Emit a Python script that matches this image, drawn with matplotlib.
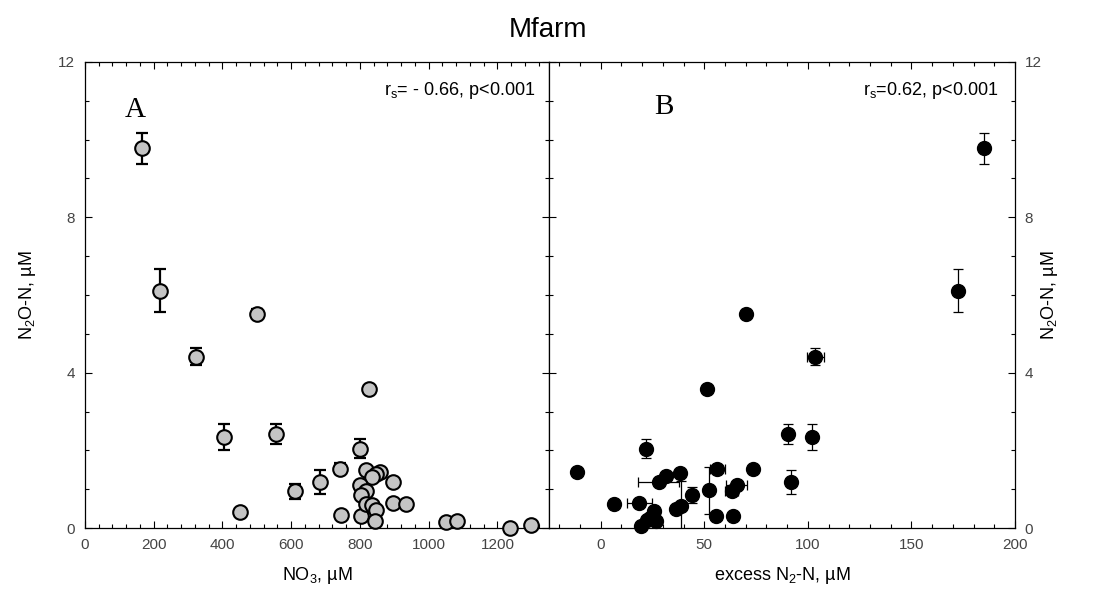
import matplotlib; matplotlib.use("Agg")
import matplotlib.pyplot as plt
from matplotlib.ticker import MultipleLocator
import numpy as np

plt.rcParams.update({"font.family": ["Liberation Sans", "DejaVu Sans"],
                     "mathtext.default": "regular"})
TICKFONT = ["Liberation Sans Narrow", "Liberation Sans"]

# panel A: nitrate vs N2O-N
nitrate = [165, 218, 499, 324, 825, 403, 556, 800, 742, 684, 612, 450, 744, 802,
           819, 858, 846, 834, 895, 800, 817, 802, 819, 834, 848, 897, 933, 845,
           1049, 1083, 1237, 1298]
n2o_a = [9.78, 6.11, 5.52, 4.41, 3.59, 2.35, 2.43, 2.04, 1.53, 1.18, 0.94, 0.41, 0.33, 0.30,
         1.50, 1.45, 1.40, 1.31, 1.18, 1.10, 0.95, 0.84, 0.62, 0.58, 0.47, 0.65, 0.63, 0.17,
         0.16, 0.17, 0.01, 0.09]
n2o_a_err = [0.40, 0.55, 0.12, 0.22, 0, 0.33, 0.26, 0.25, 0.14, 0.31, 0.20, 0, 0, 0,
             0.05, 0, 0, 0, 0, 0, 0, 0, 0.15, 0, 0, 0, 0, 0,
             0, 0, 0, 0]

# panel B: excess N2-N vs N2O-N
excess_n2 = [184.8, 172.3, 70.2, 103.6, 51.3, 90.6, 101.9, 21.7, -11.6, 56.3, 73.4, 91.8,
             27.9, 31.4, 38.2, 44.2, 52.3, 63.2, 65.6, 6.6, 18.6, 25.5, 36.2, 38.6,
             55.8, 63.8, 22.1, 19.4, 26.6, 24.0]
excess_err = [0, 0, 0, 4.2, 0, 0, 0, 0, 0, 3.6, 0, 0,
              10, 0, 0, 0, 0, 3, 5, 0, 6, 0, 0, 0,
              0, 0, 0, 0, 0, 0]
n2o_b = [9.78, 6.11, 5.52, 4.41, 3.59, 2.43, 2.35, 2.04, 1.45, 1.53, 1.52, 1.19,
         1.18, 1.33, 1.42, 0.85, 0.97, 0.96, 1.10, 0.63, 0.64, 0.44, 0.50, 0.57,
         0.30, 0.30, 0.20, 0.04, 0.18, 0.27]
n2o_b_err = [0.40, 0.55, 0.12, 0.22, 0, 0.26, 0.33, 0.24, 0, 0.05, 0.06, 0.31,
             0, 0, 0, 0.20, 0.60, 0.08, 0, 0, 0, 0, 0, 0.63,
             0, 0, 0, 0, 0, 0]

W, H = 1094, 605
fig = plt.figure(figsize=(W/100, H/100), dpi=100)
fig.patch.set_facecolor("white")
axA = fig.add_axes([85/W, 1-528/H, 464/W, 466/H])
axB = fig.add_axes([549/W, 1-528/H, 466/W, 466/H])

def style(ax, left_labels):
    ax.set_ylim(0, 12)
    ax.yaxis.set_major_locator(MultipleLocator(4))
    ax.yaxis.set_minor_locator(MultipleLocator(1))
    ax.tick_params(which="both", direction="in", top=True, right=True,
                   labelleft=left_labels, labelright=not left_labels,
                   labelsize=11, labelcolor="#444", pad=7)
    ax.tick_params(which="major", length=5, width=0.8)
    ax.tick_params(which="minor", length=3, width=0.8)
    for lab in ax.get_xticklabels() + ax.get_yticklabels():
        lab.set_family(TICKFONT)
    for s in ax.spines.values():
        s.set_linewidth(0.9)

# ---- A ----
x = np.array(nitrate); y = np.array(n2o_a); e = np.array(n2o_a_err)
m = e > 0
axA.errorbar(x[m], y[m], yerr=e[m], fmt="none", ecolor="black", elinewidth=1.6,
             capsize=4.5, capthick=1.6, zorder=2)
axA.plot(x, y, "o", ms=10.5, mfc="#c4c4c4", mec="black", mew=1.5, zorder=3, clip_on=False)
axA.set_xlim(0, 1350)
axA.xaxis.set_major_locator(MultipleLocator(200))
axA.xaxis.set_minor_locator(MultipleLocator(40))
style(axA, True)
axA.xaxis.set_major_formatter(lambda v, p: "" if v > 1200 else f"{v:.0f}")
axA.text(0.086, 0.882, "A", transform=axA.transAxes, family="Liberation Serif", fontsize=21)
axA.text(0.970, 0.929, "r$_s$= - 0.66, p<0.001", transform=axA.transAxes, ha="right",
         va="baseline", fontsize=13)

# ---- B ----
x = np.array(excess_n2); xe = np.array(excess_err)
y = np.array(n2o_b); e = np.array(n2o_b_err)
m = e > 0
axB.errorbar(x[m], y[m], yerr=e[m], fmt="none", ecolor="black", elinewidth=0.9,
             capsize=3.5, capthick=0.9, zorder=2)
m = xe > 0
axB.errorbar(x[m], y[m], xerr=xe[m], fmt="none", ecolor="black", elinewidth=0.9,
             capsize=3.5, capthick=0.9, zorder=2)
axB.plot(x, y, "o", ms=10, mfc="black", mec="black", zorder=3, clip_on=False)
axB.set_xlim(-25, 200)
axB.xaxis.set_major_locator(MultipleLocator(50))
axB.xaxis.set_minor_locator(MultipleLocator(10))
style(axB, False)
axB.text(0.225, 0.888, "B", transform=axB.transAxes, family="Liberation Serif", fontsize=21)
axB.text(0.9635, 0.929, "r$_s$=0.62, p<0.001", transform=axB.transAxes, ha="right",
         va="baseline", fontsize=13)

# labels and title
fig.text(548/W, 1-37/H, "Mfarm", ha="center", va="baseline", fontsize=20)
fig.text(317/W, 1-575/H, "NO$_3$, µM", ha="center", va="center", fontsize=13)
fig.text(782/W, 1-575/H, "excess N$_2$-N, µM", ha="center", va="center", fontsize=13)
fig.text(28/W, 1-295/H, "N$_2$O-N, µM", ha="center", va="center", rotation=90, fontsize=13)
fig.text(1050/W, 1-295/H, "N$_2$O-N, µM", ha="center", va="center", rotation=90, fontsize=13)

fig.savefig("out.png", dpi=100, facecolor="white")
